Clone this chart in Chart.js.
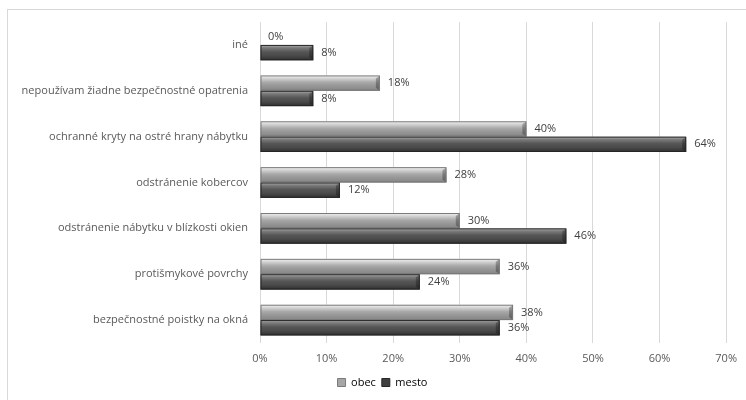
<!DOCTYPE html>
<html>
<head>
<meta charset="utf-8">
<script src="https://cdn.jsdelivr.net/npm/chart.js@4"></script>
<style>
    html, body { margin: 0; padding: 0; background: #fff; }
    #wrap { position: relative; width: 746px; height: 400px; overflow: hidden; }
    #frame { position: absolute; left: 7px; top: 9px; width: 760px; height: 420px;
             border-top: 1px solid #d9d9d9; border-left: 1px solid #d9d9d9; }
    #myChart { position: absolute; left: 0; top: 0; }
</style>
</head>
<body>
<div id="wrap">
    <div id="frame"></div>
    <canvas id="myChart" width="746" height="400"></canvas>
</div>
<script>
const categories = [
    "iné",
    "nepoužívam žiadne bezpečnostné opatrenia",
    "ochranné kryty na ostré hrany nábytku",
    "odstránenie kobercov",
    "odstránenie nábytku v blízkosti okien",
    "protišmykové povrchy",
    "bezpečnostné poistky na okná"
];
const obec = [0, 18, 40, 28, 30, 36, 38];
const mesto = [8, 8, 64, 12, 46, 24, 36];
const tickValues = [0, 10, 20, 30, 40, 50, 60, 70];

const FONT = "'Open Sans', sans-serif";

// gradient stops for the shaded bars, top edge to bottom edge
const shades = [
    [[0, '#f4f4f4'], [0.18, '#d6d6d6'], [0.45, '#a9a9a9'], [0.65, '#999999'], [0.9, '#8a8a8a'], [1, '#707070']],
    [[0, '#b4b4b4'], [0.18, '#7c7c7c'], [0.45, '#565656'], [0.7, '#4a4a4a'], [0.9, '#383838'], [1, '#262626']]
];
const edges = ['#7a7a7a', '#262626'];

// paints each bar as a bevelled gray bar and writes its value next to it
const bevelBars = {
    id: 'bevelBars',
    afterDatasetsDraw(chart) {
        const ctx = chart.ctx;
        chart.data.datasets.forEach((ds, i) => {
            const meta = chart.getDatasetMeta(i);
            meta.data.forEach((bar, j) => {
                const p = bar.getProps(['x', 'y', 'base', 'height'], true);
                const top = p.y - p.height / 2;
                const h = p.height;
                const left = p.base;
                const w = p.x - p.base;
                if (w > 0) {
                    const g = ctx.createLinearGradient(0, top, 0, top + h);
                    shades[i].forEach(s => g.addColorStop(s[0], s[1]));
                    ctx.save();
                    ctx.fillStyle = g;
                    ctx.fillRect(left, top, w, h);
                    // bevelled end cap
                    const b = Math.min(4, w);
                    ctx.beginPath();
                    ctx.moveTo(p.x - b, top + 3);
                    ctx.lineTo(p.x, top);
                    ctx.lineTo(p.x, top + h);
                    ctx.lineTo(p.x - b, top + h - 3);
                    ctx.closePath();
                    ctx.fillStyle = 'rgba(0,0,0,0.28)';
                    ctx.fill();
                    ctx.strokeStyle = edges[i];
                    ctx.lineWidth = 1;
                    ctx.strokeRect(left + 0.5, top + 0.5, w - 1, h - 1);
                    ctx.restore();
                }
                ctx.save();
                ctx.font = "11px " + FONT;
                ctx.fillStyle = '#404040';
                ctx.textBaseline = 'middle';
                ctx.textAlign = 'left';
                ctx.fillText(ds.data[j] + '%', p.x + 8, p.y);
                ctx.restore();
            });
        });
    }
};

// nudge the legend so it sits centred under the whole frame
const legendShift = {
    id: 'legendShift',
    afterLayout(chart) {
        if (chart.legend) {
            chart.legend.left += 38;
        }
    }
};

const ctx = document.getElementById('myChart').getContext('2d');
new Chart(ctx, {
    type: 'bar',
    data: {
        labels: categories,
        datasets: [
            {
                label: 'obec',
                data: obec,
                backgroundColor: 'rgba(0,0,0,0)',
                borderWidth: 0,
                categoryPercentage: 0.67,
                barPercentage: 1.0
            },
            {
                label: 'mesto',
                data: mesto,
                backgroundColor: 'rgba(0,0,0,0)',
                borderWidth: 0,
                categoryPercentage: 0.67,
                barPercentage: 1.0
            }
        ]
    },
    options: {
        indexAxis: 'y',
        responsive: false,
        animation: false,
        layout: {
            padding: { top: 22, right: 19, left: 0, bottom: 2 }
        },
        scales: {
            x: {
                min: 0,
                max: 70,
                afterBuildTicks: scale => {
                    scale.ticks = tickValues.map(v => ({ value: v }));
                },
                afterFit: scale => { scale.height = 28; },
                grid: { color: '#d9d9d9', drawTicks: false },
                border: { display: false },
                ticks: {
                    padding: 9,
                    color: '#595959',
                    font: { family: FONT, size: 11 },
                    callback: v => v + '%'
                }
            },
            y: {
                afterFit: scale => { scale.width = 260; },
                grid: { display: false, drawTicks: false },
                border: { display: false },
                ticks: {
                    padding: 12,
                    color: '#595959',
                    font: { family: FONT, size: 11 }
                }
            }
        },
        plugins: {
            legend: {
                position: 'bottom',
                labels: {
                    boxWidth: 8,
                    boxHeight: 8,
                    padding: 6,
                    color: '#595959',
                    font: { family: FONT, size: 11 },
                    generateLabels: chart => chart.data.datasets.map((ds, i) => ({
                        text: ds.label,
                        fillStyle: i === 0 ? '#a6a6a6' : '#404040',
                        strokeStyle: edges[i],
                        lineWidth: 1,
                        datasetIndex: i
                    }))
                }
            },
            tooltip: { enabled: false }
        }
    },
    plugins: [bevelBars, legendShift]
});
</script>
</body>
</html>
